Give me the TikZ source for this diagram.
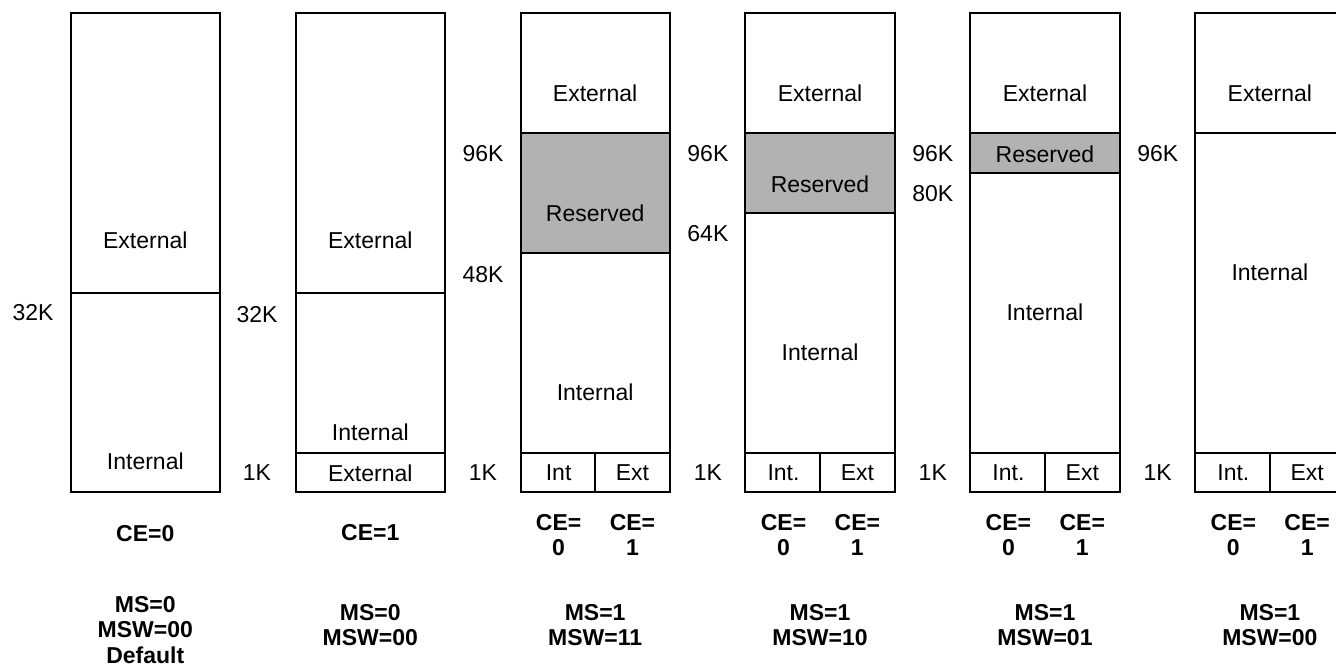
\documentclass[tikz,border=0pt]{standalone}
\usepackage{fontspec}
\setmainfont{Liberation Sans}
\begin{document}
\begin{tikzpicture}[x=1pt,y=-1pt,
  cell/.style={line width=2pt,draw=black},
  lbl/.style={inner sep=0pt,font=\fontsize{23}{25}\selectfont},
  addr/.style={inner sep=0pt,font=\fontsize{23}{25}\selectfont},
  cfg/.style={inner sep=0pt,font=\fontsize{23}{25}\selectfont\bfseries}]
\useasboundingbox (0,0) rectangle (1336,666);
\clip (0,0) rectangle (1336,666);

% column geometry: width, top and bottom of every map
\def\colw{149.3}
\def\ytop{13}\def\ybot{492}

% ---- map 1: MS=0, CE=0 (default) ----
\draw[cell] (70.7,\ytop) rectangle (220,\ybot);
\draw[cell] (70.7,293) -- (220,293);
\node[lbl] (m1ext) at (145.3,240) {External};
\node[lbl] (m1int) at (145.3,461) {Internal};
\node[addr] (m1a32) at (33,313) {32K};
\node[cfg] (m1ce) at (145.3,534) {CE=0};
\node[cfg] (m1ms) at (145.3,605) {MS=0};
\node[cfg] (m1msw) at (145.3,630) {MSW=00};
\node[cfg] (m1def) at (145.3,655) {Default};

% ---- map 2: MS=0, CE=1 ----
\draw[cell] (295.6,\ytop) rectangle (444.9,\ybot);
\draw[cell] (295.6,293) -- (444.9,293);
\draw[cell] (295.6,453) -- (444.9,453);
\node[lbl] (m2ext) at (370.3,240) {External};
\node[lbl] (m2int) at (370.3,432) {Internal};
\node[lbl] (m2low) at (370.3,473) {External};
\node[addr] (m2a32) at (257,315) {32K};
\node[addr] (m2a1) at (257,473) {1K};
\node[cfg] (m2ce) at (370.3,533) {CE=1};
\node[cfg] (m2ms) at (370.3,613) {MS=0};
\node[cfg] (m2msw) at (370.3,638) {MSW=00};

% ---- maps 3..6: MS=1, split low 1K block ----
% left x / reserved bottom y / reserved label y / internal label y /
% MSW value / name prefix / low-cell label
\foreach \xl/\rb/\ry/\iy/\msw/\p/\intl in {
    520.5/253/213/392/11/m3/Int,
    745.4/213/184/352/10/m4/Int.,
    970.3/173/154/312/01/m5/Int.,
    1195.2/133/0/272/00/m6/Int.}{
  \pgfmathsetmacro{\xr}{\xl+\colw}
  \pgfmathsetmacro{\xm}{\xl+\colw/2}
  \pgfmathsetmacro{\xi}{\xl+\colw/4+0.8}
  \pgfmathsetmacro{\xe}{\xl+3*\colw/4}
  \pgfmathsetmacro{\xa}{\xl-37.5}
  \ifdim\rb pt>133pt
    \fill[black!30] (\xl,133) rectangle (\xr,\rb);
    \draw[cell] (\xl,\rb) -- (\xr,\rb);
    \node[lbl] (\p res) at (\xm,\ry) {Reserved};
  \fi
  \draw[cell] (\xl,\ytop) rectangle (\xr,\ybot);
  \draw[cell] (\xl,133) -- (\xr,133);
  \draw[cell] (\xl,453) -- (\xr,453);
  \draw[cell] (\xm,453) -- (\xm,\ybot);
  \node[lbl] (\p ext) at (\xm,93) {External};
  \node[lbl] (\p int) at (\xm,\iy) {Internal};
  \node[lbl] (\p lo) at (\xi,473) {\intl};
  \node[lbl] (\p hi) at (\xe,473) {Ext};
  \node[addr] (\p a96) at (\xa,154) {96K};
  \node[addr] (\p a1) at (\xa,473) {1K};
  \node[cfg] (\p cea) at (\xi,523) {CE=};
  \node[cfg] (\p ceb) at (\xe,523) {CE=};
  \node[cfg] (\p cev) at (\xi,548) {0};
  \node[cfg] (\p cew) at (\xe,548) {1};
  \node[cfg] (\p ms) at (\xm,613) {MS=1};
  \node[cfg] (\p msw) at (\xm,638) {MSW=\msw};
}
% low-end boundary labels of the reserved windows
\node[addr] (m3a48) at (483,275) {48K};
\node[addr] (m4a64) at (707.9,234) {64K};
\node[addr] (m5a80) at (932.8,194) {80K};
\end{tikzpicture}
\end{document}
